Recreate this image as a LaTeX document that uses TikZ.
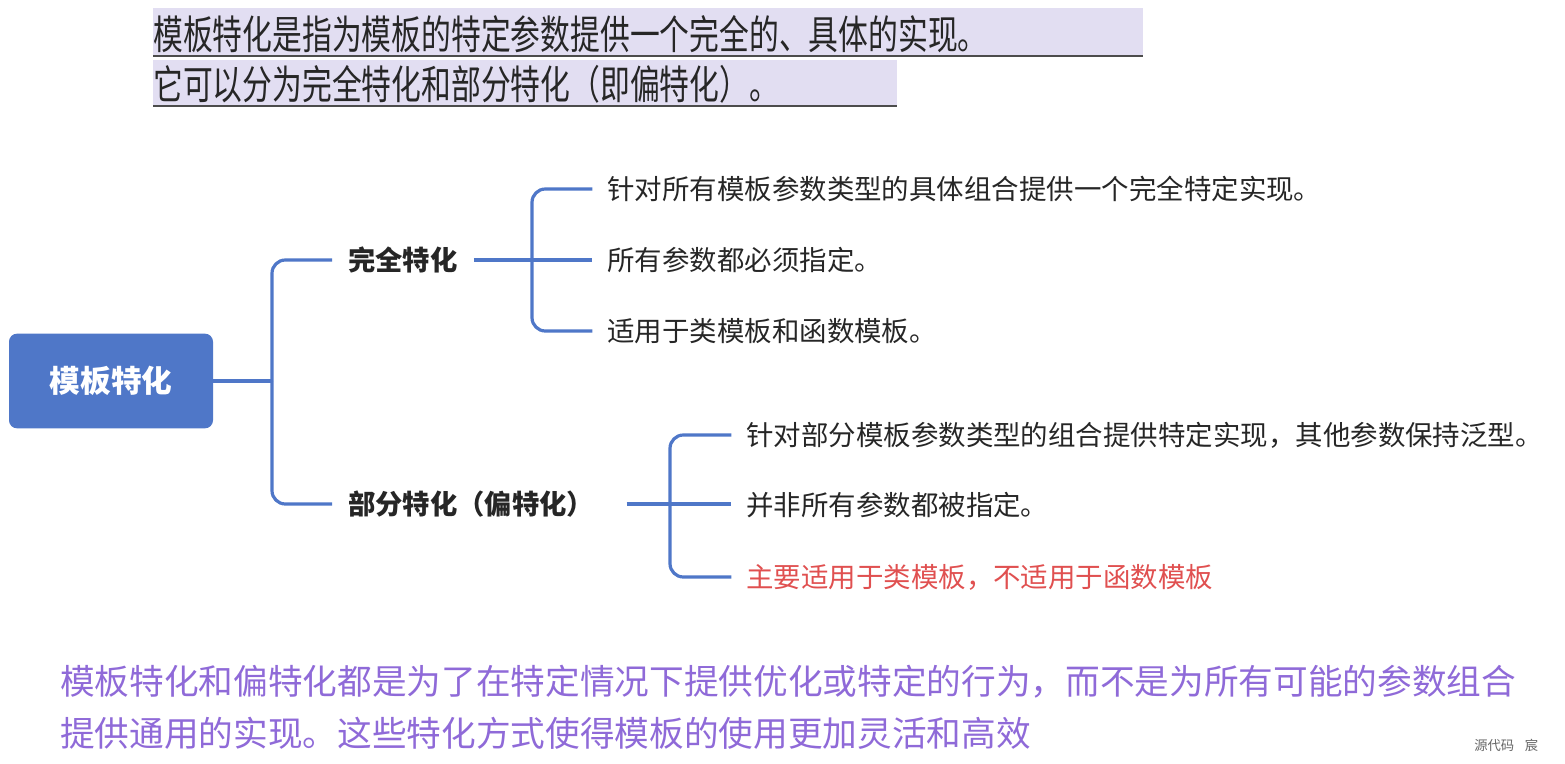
\documentclass[tikz,border=0pt]{standalone}
\usepackage{fontspec}
\setmainfont{Noto Sans CJK SC}
\definecolor{mblue}{HTML}{4F77C8}
\definecolor{hl}{HTML}{E2DEF2}
\definecolor{mred}{HTML}{E05050}
\definecolor{mpurple}{HTML}{8F6AD8}
\begin{document}
\begin{tikzpicture}[x=0.75pt,y=-0.75pt,
  conn/.style={draw=mblue,line width=2.4pt,rounded corners=10pt},
  lvl/.style={anchor=west,font=\fontsize{20.5pt}{22pt}\selectfont\bfseries,text=black!85,inner sep=0pt},
  leaf/.style={anchor=west,font=\fontsize{20.6pt}{22pt}\selectfont,text=black!85,inner sep=0pt},
  top/.style={anchor=west,font=\fontsize{30pt}{36pt}\selectfont,text=black!85,inner sep=0pt},
  bot/.style={anchor=west,font=\fontsize{26pt}{32pt}\selectfont,text=mpurple,inner sep=0pt}]
\useasboundingbox (0,0) rectangle (1565,763);
% header highlight
\fill[hl] (153,8) rectangle (1143,57);
\fill[hl] (153,60) rectangle (897,107);
\draw[black!70,line width=1.5pt] (153,56) -- (1143,56);
\draw[black!70,line width=1.5pt] (153,106) -- (897,106);
\node[top] (t1) at (153,34) {\scalebox{0.745}[1]{模板特化是指为模板的特定参数提供一个完全的、具体的实现。}};
\node[top] (t2) at (153,84) {\scalebox{0.745}[1]{它可以分为完全特化和部分特化（即偏特化）。}};
% root
\node[fill=mblue,rounded corners=6pt,minimum width=153pt,minimum height=71pt,text=white,
  font=\fontsize{23pt}{26pt}\selectfont\bfseries] (root) at (111,381) {模板特化};
\node[lvl] (a) at (348,260) {完全特化};
\node[lvl] (b) at (348,504) {部分特化（偏特化）};
\node[leaf] (a1) at (607,189) {针对所有模板参数类型的具体组合提供一个完全特定实现。};
\node[leaf] (a2) at (607,260) {所有参数都必须指定。};
\node[leaf] (a3) at (607,331) {适用于类模板和函数模板。};
\node[leaf] (b1) at (746,435) {针对部分模板参数类型的组合提供特定实现，其他参数保持泛型。};
\node[leaf] (b2) at (746,505) {并非所有参数都被指定。};
\node[leaf,text=mred] (b3) at (746,577) {主要适用于类模板，不适用于函数模板};
\coordinate (rA) at (272,381);
\draw[conn] (root.east) -- (rA);
\draw[conn] (rA) |- ([xshift=-12pt]a.west);
\draw[conn] (rA) |- ([xshift=-12pt]b.west);
\coordinate (jA) at (532,260);
\draw[conn] (a.east) ++(12pt,0) -- (jA);
\draw[conn] (jA) |- ([xshift=-11pt]a1.west);
\draw[conn] (jA) -- ([xshift=-11pt]a2.west);
\draw[conn] (jA) |- ([xshift=-11pt]a3.west);
\coordinate (jB) at (670,504);
\draw[conn] (b.east) ++(24pt,0) -- (jB);
\draw[conn] (jB) |- ([xshift=-11pt]b1.west);
\draw[conn] (jB) -- ([xshift=-11pt]b2.west|-jB);
\draw[conn] (jB) |- ([xshift=-11pt]b3.west);
% bottom
\node[bot] (c1) at (60,682) {模板特化和偏特化都是为了在特定情况下提供优化或特定的行为，而不是为所有可能的参数组合};
\node[bot] (c2) at (60,733) {提供通用的实现。这些特化方式使得模板的使用更加灵活和高效};
\node[anchor=west,font=\fontsize{10pt}{12pt}\selectfont,text=black!60,inner sep=0pt] (wm) at (1474,745) {源代码\hspace{8pt}宸};
\end{tikzpicture}
\end{document}
